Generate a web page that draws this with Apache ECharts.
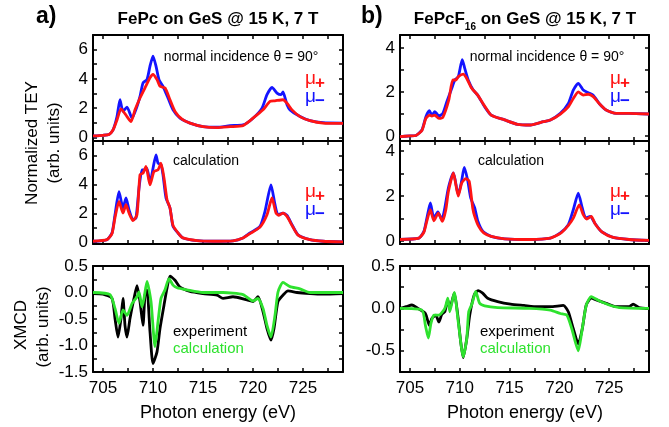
<!DOCTYPE html>
<html>
<head>
<meta charset="utf-8">
<script src="https://cdn.jsdelivr.net/npm/echarts@6/dist/echarts.min.js"></script>
<style>html,body{margin:0;padding:0;background:#fff}#c{width:669px;height:427px}</style>
</head>
<body>
<div id="c"></div>
<script>
// ---- data (photon energy eV, intensity) ----
const xTicks = [705, 707.5, 710, 712.5, 715, 717.5, 720, 722.5, 725, 727.5];
const xLabels = [705, 710, 715, 720, 725];

const aTopMinus = [[704,0.1],[705,0.14],[705.6,0.2],[706.0,0.5],[706.4,1.42],[706.7,2.57],[707.0,1.77],[707.4,2.07],[707.9,1.31],[708.4,2.11],[708.7,2.8],[709.0,3.72],[709.4,3.95],[709.7,4.87],[710.0,5.56],[710.3,4.87],[710.6,3.95],[711.0,3.49],[711.5,2.69],[712.0,1.88],[712.7,1.31],[713.7,0.97],[715.0,0.73],[716.4,0.69],[717.7,0.8],[719.0,0.85],[720.0,1.31],[720.9,2.0],[721.4,2.92],[721.9,3.42],[722.4,3.03],[722.8,2.92],[723.0,3.1],[723.4,2.23],[723.7,1.88],[724.7,1.42],[725.7,1.14],[727.0,1.0],[729,0.97]];
const aTopPlus = [[704,0.1],[705,0.14],[705.6,0.2],[706.0,0.5],[706.4,1.19],[706.8,1.95],[707.4,1.42],[707.8,1.08],[708.2,1.88],[708.7,2.69],[709.2,3.38],[709.7,4.07],[710.0,4.3],[710.4,3.95],[710.7,3.49],[711.2,3.38],[711.7,2.57],[712.2,1.77],[712.9,1.24],[713.7,0.97],[715.0,0.73],[716.4,0.67],[717.7,0.73],[719.0,0.8],[720.0,1.31],[721.0,1.88],[721.7,2.46],[722.2,2.5],[723.0,2.57],[723.4,2.34],[723.9,1.88],[724.7,1.42],[725.7,1.14],[727.0,0.97],[729,0.95]];
const aCalcMinus = [[704,0.07],[705.4,0.18],[705.9,0.64],[706.2,1.9],[706.6,3.5],[707.0,2.37],[707.3,3.06],[707.6,2.25],[708.0,1.56],[708.3,1.68],[708.6,3.74],[708.9,5.0],[709.1,5.0],[709.4,5.1],[709.7,4.09],[710.0,5.1],[710.3,6.04],[710.5,5.47],[710.8,5.36],[711.0,4.67],[711.3,3.06],[711.7,2.37],[712.0,1.1],[712.5,0.64],[713.0,0.3],[714.4,0.11],[716,0.07],[718,0.1],[719.0,0.3],[719.7,0.64],[720.7,1.1],[721.2,2.14],[721.8,3.97],[722.2,2.6],[722.5,1.9],[723.0,2.02],[723.4,1.86],[723.9,1.21],[724.5,0.52],[725.7,0.18],[727,0.07],[729,0.03]];
const aCalcPlus = [[704,0.07],[705.4,0.18],[705.9,0.6],[706.2,1.7],[706.6,2.82],[707.0,2.02],[707.3,2.6],[707.6,2.02],[708.0,1.49],[708.4,1.9],[708.7,4.67],[709.0,4.78],[709.3,5.24],[709.7,3.97],[710.1,4.9],[710.5,5.0],[710.8,5.47],[711.1,4.44],[711.4,2.94],[711.7,2.37],[712.0,1.17],[712.6,0.57],[713.0,0.3],[714.4,0.11],[716,0.07],[718,0.1],[719.0,0.3],[719.7,0.6],[720.7,1.05],[721.4,1.9],[721.9,3.06],[722.3,2.02],[722.6,1.86],[723.0,2.02],[723.4,1.79],[723.9,1.17],[724.5,0.5],[725.7,0.18],[727,0.07],[729,0.03]];
const aXmcdExp = [[704,-0.02],[705,-0.03],[705.9,-0.11],[706.2,-0.49],[706.5,-0.84],[706.8,-0.49],[707.0,-0.11],[707.2,-0.62],[707.4,-0.84],[707.7,-0.49],[708.1,-0.11],[708.4,0.13],[708.7,-0.17],[709.0,-0.62],[709.2,-0.05],[709.4,0.05],[709.7,-0.74],[710.0,-1.34],[710.4,-1.12],[710.7,-0.68],[711.1,-0.24],[711.4,0.08],[711.7,0.31],[712.2,0.23],[712.7,0.1],[713.7,0.02],[715.0,-0.02],[716.4,-0.05],[717.0,-0.11],[718.0,-0.08],[719.4,-0.14],[720.0,-0.17],[720.5,-0.08],[721.0,-0.36],[721.4,-0.68],[721.8,-0.9],[722.1,-0.68],[722.5,-0.17],[723.0,-0.05],[723.5,0.03],[724.4,0.0],[725.7,-0.02],[727,-0.03],[729,-0.02]];
const aXmcdCalc = [[704,0.0],[705.7,-0.04],[706.2,-0.3],[706.6,-0.58],[707.0,-0.33],[707.4,-0.43],[707.9,-0.21],[708.4,-0.08],[708.6,0.01],[708.9,-0.27],[709.1,-0.11],[709.4,0.21],[709.8,-0.17],[710.2,-1.02],[710.5,-0.55],[710.8,-0.11],[711.2,0.05],[711.6,0.26],[712.0,0.14],[712.4,0.09],[713.4,0.05],[715,0.0],[717,0.0],[719.0,-0.04],[720.0,-0.16],[720.5,-0.11],[721.0,-0.3],[721.4,-0.62],[721.8,-0.84],[722.2,-0.43],[722.5,0.01],[723.0,0.19],[723.7,0.11],[724.7,0.07],[725.7,0.0],[729,0.0]];

const bTopMinus = [[704,-0.03],[705.0,0.0],[705.6,0.02],[706.2,0.27],[706.6,0.88],[706.95,1.15],[707.2,0.95],[707.5,1.11],[707.9,0.91],[708.3,1.03],[708.7,1.56],[709.2,2.17],[709.5,2.55],[709.85,2.7],[710.25,3.48],[710.5,3.08],[710.85,2.55],[711.35,2.09],[711.8,1.86],[712.5,1.33],[713.15,0.95],[714.5,0.73],[715.8,0.53],[717.1,0.5],[718.4,0.65],[719.1,0.73],[720.1,1.03],[720.9,1.48],[721.4,2.09],[721.9,2.4],[722.4,2.09],[722.9,1.97],[723.4,1.86],[724.0,1.48],[724.7,1.18],[725.7,1.03],[727,1.03],[729,1.0]];
const bTopPlus = [[704,-0.03],[705.0,0.0],[705.6,0.02],[706.2,0.25],[706.6,0.8],[706.95,0.95],[707.2,0.91],[707.5,0.95],[707.9,0.8],[708.3,0.85],[708.9,1.64],[709.3,2.55],[709.6,2.55],[709.85,2.7],[710.35,2.82],[710.7,2.62],[711.2,2.17],[711.8,1.86],[712.5,1.36],[713.15,0.95],[714.5,0.73],[715.8,0.53],[717.1,0.5],[718.4,0.65],[719.1,0.73],[720.1,1.0],[720.9,1.33],[721.4,1.71],[721.9,2.01],[722.4,1.86],[722.9,1.9],[723.4,1.79],[724.0,1.48],[724.7,1.18],[725.7,1.03],[727,1.03],[729,1.0]];
const bCalcMinus = [[704,0.07],[705.9,0.13],[706.4,0.43],[706.7,1.02],[707.05,1.69],[707.4,1.02],[707.8,1.29],[708.2,0.95],[708.5,1.47],[708.86,2.36],[709.36,3.02],[709.85,2.06],[710.18,2.65],[710.45,3.27],[710.78,2.73],[711.1,1.91],[711.5,1.47],[711.83,0.87],[712.33,0.43],[713.15,0.21],[714.5,0.1],[717,0.07],[719.1,0.13],[720.1,0.36],[720.9,0.73],[721.4,1.39],[721.9,2.13],[722.3,1.47],[722.65,1.02],[723.1,1.1],[723.55,0.8],[724.2,0.43],[725.4,0.16],[727,0.07],[729,0.03]];
const bCalcPlus = [[704,0.07],[705.9,0.13],[706.4,0.4],[706.7,0.9],[707.05,1.39],[707.4,0.9],[707.85,1.24],[708.25,0.87],[708.6,1.39],[708.86,2.2],[709.36,3.02],[709.85,1.99],[710.2,2.58],[710.6,2.77],[710.95,2.65],[711.3,1.47],[711.5,1.1],[711.9,0.65],[712.4,0.36],[713.15,0.21],[714.5,0.1],[717,0.07],[719.1,0.13],[720.1,0.34],[720.9,0.7],[721.4,1.02],[722.0,1.61],[722.4,1.17],[722.75,0.98],[723.2,1.1],[723.6,0.76],[724.3,0.4],[725.4,0.16],[727,0.07],[729,0.03]];
const bXmcdExp = [[704,0.0],[704.6,0.02],[705.2,0.04],[705.8,0.0],[706.55,-0.06],[706.95,-0.2],[707.2,-0.12],[707.6,-0.08],[707.9,-0.16],[708.2,-0.07],[708.5,-0.04],[708.8,0.1],[709.0,0.0],[709.45,0.18],[709.8,-0.08],[710.1,-0.4],[710.35,-0.58],[710.7,-0.36],[711.0,-0.08],[711.45,0.16],[711.85,0.21],[712.3,0.18],[712.8,0.12],[713.8,0.08],[715.1,0.05],[716.45,0.035],[717.8,0.02],[719.1,0.02],[720.4,0.035],[720.9,-0.04],[721.4,-0.24],[721.9,-0.42],[722.3,-0.24],[722.7,0.04],[723.2,0.12],[723.7,0.1],[724.7,0.06],[725.7,0.02],[727.0,0.02],[727.4,0.05],[728,0.01],[729,0.0]];
const bXmcdCalc = [[704,0.0],[706.2,-0.02],[706.55,-0.2],[706.85,-0.35],[707.1,-0.18],[707.4,-0.08],[707.9,-0.08],[708.5,0.0],[708.8,0.12],[709.0,-0.04],[709.45,0.19],[709.85,-0.16],[710.35,-0.57],[710.7,-0.36],[710.9,-0.04],[711.25,0.06],[711.6,0.2],[712.0,0.06],[712.5,0.03],[713.8,0.01],[717,0.0],[719.1,-0.02],[720.1,-0.06],[720.75,-0.08],[721.25,-0.24],[721.9,-0.5],[722.3,-0.24],[722.7,0.04],[723.2,0.14],[724.0,0.09],[725.0,0.04],[726.0,0.01],[729,0.0]];

// y-axis ranges and ticks per panel
const yRanges = [[-0.25,7],[-0.12,7],[-1.5,0.5],[-0.23,4.6],[-0.13,4.44],[-0.75,0.5]];
const yTickVals = [[0,1,2,3,4,5,6],[0,1,2,3,4,5,6],[-1.25,-1,-0.75,-0.5,-0.25,0,0.25],[0,1,2,3,4],[0,1,2,3,4],[-0.5,-0.25,0,0.25]];
const yLabelVals = [[0,2,4,6],[0,2,4,6],[-1.5,-1,-0.5,0,0.5],[0,2,4],[0,2,4],[-0.5,0,0.5]];

// ---- layout ----
const FONT = 'Liberation Sans, Arial, sans-serif';
const BLUE = '#1414ff', RED = '#ff1414', BLACK = '#000', GREEN = '#2ee22e';
const grids = [
  {left:93, top:35, width:250, height:106},
  {left:93, top:141, width:250, height:103},
  {left:93, top:266, width:250, height:106},
  {left:400, top:35, width:249, height:106},
  {left:400, top:141, width:249, height:103},
  {left:400, top:266, width:249, height:106}
].map(g => Object.assign({containLabel:false, outerBoundsMode:'none', show:false}, g));

const axisLine = {show:true, onZero:false, lineStyle:{color:'#000', width:2}};
const tickStyle = {color:'#000', width:1.5};
const xAxes = [], yAxes = [];
for (let g = 0; g < 6; g++) {
  const bottomPanel = (g === 2 || g === 5);
  ['bottom','top'].forEach((pos, k) => {
    xAxes.push({type:'value', gridIndex:g, position:pos, min:704, max:729,
      axisLine:axisLine, splitLine:{show:false},
      axisTick:{show:true, inside:true, length:4, customValues:xTicks, lineStyle:tickStyle},
      axisLabel:{show: bottomPanel && k === 0, customValues:xLabels, margin:8,
        color:'#000', fontSize:17, fontFamily:FONT}});
  });
  const dec = bottomPanel;
  ['left','right'].forEach((pos, k) => {
    yAxes.push({type:'value', gridIndex:g, position:pos, min:yRanges[g][0], max:yRanges[g][1],
      axisLine:axisLine, splitLine:{show:false},
      axisTick:{show:true, inside:true, length:4, customValues:yTickVals[g], lineStyle:tickStyle},
      axisLabel:{show:k === 0, customValues:yLabelVals[g], margin:5, color:'#000',
        fontSize:17, fontFamily:FONT,
        formatter: v => dec ? Number(v).toFixed(1) : String(Math.round(v))}});
  });
}

function line(g, data, color) {
  return {type:'line', xAxisIndex:2*g, yAxisIndex:2*g, data:data, showSymbol:false,
    smooth:0.2, lineStyle:{color:color, width:2.8}, itemStyle:{color:color}, silent:true};
}
const series = [
  line(0, aTopMinus, BLUE), line(0, aTopPlus, RED),
  line(1, aCalcMinus, BLUE), line(1, aCalcPlus, RED),
  line(2, aXmcdExp, BLACK), line(2, aXmcdCalc, GREEN),
  line(3, bTopMinus, BLUE), line(3, bTopPlus, RED),
  line(4, bCalcMinus, BLUE), line(4, bCalcPlus, RED),
  line(5, bXmcdExp, BLACK), line(5, bXmcdCalc, GREEN)
];

function txt(x, y, text, opt) {
  return {type:'text', x:x, y:y, rotation: (opt && opt.rot) || 0, silent:true,
    style: Object.assign({text:text, fill:'#000', fontFamily:FONT, fontSize:14,
      textAlign:'left', textVerticalAlign:'middle'}, (opt && opt.style) || {})};
}
function mu(x, y, sign, color) {
  return [
    txt(x, y, 'μ', {style:{fontSize:19, fill:color}}),
    txt(x + 10, y + 4, sign, {style:{fontSize:17, fontWeight:'bold', fill:color}})
  ];
}
// measure title pieces for the subscripted right-hand title
const mctx = document.createElement('canvas').getContext('2d');
function tw(s, font) { mctx.font = font; return mctx.measureText(s).width; }
const TF = 'bold 17px ' + FONT, SF = 'bold 10px ' + FONT;
const p1 = 'FePcF', p2 = '16', p3 = ' on GeS @ 15 K, 7 T';
const w1 = tw(p1, TF), w2 = tw(p2, SF), w3 = tw(p3, TF);
const rx0 = 525 - (w1 + w2 + w3) / 2;

const graphics = [
  txt(36, 17, 'a)', {style:{fontSize:23, fontWeight:'bold'}}),
  txt(218, 19, 'FePc on GeS @ 15 K, 7 T', {style:{fontSize:17, fontWeight:'bold', textAlign:'center'}}),
  txt(361, 17, 'b)', {style:{fontSize:23, fontWeight:'bold'}}),
  txt(rx0, 19, p1, {style:{fontSize:17, fontWeight:'bold'}}),
  txt(rx0 + w1, 27, p2, {style:{fontSize:10, fontWeight:'bold'}}),
  txt(rx0 + w1 + w2, 19, p3, {style:{fontSize:17, fontWeight:'bold'}}),
  txt(32, 143, 'Normalized TEY', {rot:Math.PI/2, style:{fontSize:17, textAlign:'center'}}),
  txt(54, 143, '(arb. units)', {rot:Math.PI/2, style:{fontSize:17, textAlign:'center'}}),
  txt(21, 325, 'XMCD', {rot:Math.PI/2, style:{fontSize:17, textAlign:'center'}}),
  txt(43, 327, '(arb. units)', {rot:Math.PI/2, style:{fontSize:17, textAlign:'center'}}),
  txt(218, 413, 'Photon energy (eV)', {style:{fontSize:18, textAlign:'center'}}),
  txt(525, 413, 'Photon energy (eV)', {style:{fontSize:18, textAlign:'center'}}),
  txt(241, 57, 'normal incidence θ = 90°', {style:{fontSize:14, textAlign:'center'}}),
  txt(547, 57, 'normal incidence θ = 90°', {style:{fontSize:14, textAlign:'center'}}),
  txt(206, 161, 'calculation', {style:{fontSize:14, textAlign:'center'}}),
  txt(511, 161, 'calculation', {style:{fontSize:14, textAlign:'center'}}),
  txt(173, 332, 'experiment', {style:{fontSize:15}}),
  txt(173, 349, 'calculation', {style:{fontSize:15, fill:GREEN}}),
  txt(480, 332, 'experiment', {style:{fontSize:15}}),
  txt(480, 349, 'calculation', {style:{fontSize:15, fill:GREEN}})
].concat(
  mu(305, 79, '+', RED), mu(305, 97, '−', BLUE),
  mu(305, 192, '+', RED), mu(305, 210, '−', BLUE),
  mu(610, 79, '+', RED), mu(610, 97, '−', BLUE),
  mu(610, 192, '+', RED), mu(610, 210, '−', BLUE)
);

const chart = echarts.init(document.getElementById('c'), null, {renderer:'canvas'});
chart.setOption({
  animation:false, backgroundColor:'#fff',
  grid:grids, xAxis:xAxes, yAxis:yAxes, series:series, graphic:graphics
});
</script>
</body>
</html>
